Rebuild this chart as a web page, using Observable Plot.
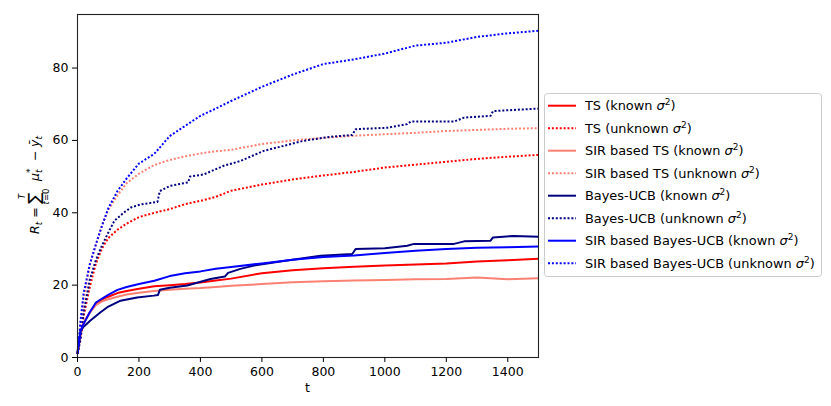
<!DOCTYPE html>
<html><head><meta charset="utf-8">
<script src="https://cdn.jsdelivr.net/npm/d3@7"></script>
<script src="https://cdn.jsdelivr.net/npm/@observablehq/plot@0.6"></script>
<style>body{margin:0;background:#fff;} svg{font-family:"DejaVu Sans";}</style>
</head><body><div id="chart"></div>
<script>
// ---- data ----
const tGrid = [0,10,20,40,60,80,100,130,160,200,250,300,350,400,450,500,600,700,800,900,1000,1100,1200,1300,1400,1500];
const tsKnown      = [1,6.5,9.5,12.5,14.8,16,16.8,17.8,18.4,19,19.7,20,20.3,20.7,21.3,21.8,23.3,24.1,24.7,25.1,25.4,25.7,26,26.5,26.9,27.3];
const tsUnknown    = [1,6,11.5,19.5,26,30.2,33,35.3,37,38.8,40,41,42.4,43.3,44.4,46.1,47.8,49.2,50.3,51.3,52.5,53.3,54.1,54.9,55.5,56];
const sirTsKnown   = [1,6.5,9.5,12.3,14.5,15.5,16.1,16.8,17.4,17.9,18.4,18.7,19,19.2,19.5,19.8,20.3,20.8,21.1,21.3,21.4,21.6,21.7,22.1,21.6,21.9];
const sirTsUnknown = [1,9,16,25.5,31.3,36.5,40.8,44.8,48.2,50.8,53.2,54.6,55.6,56.4,57,57.4,59,60,60.7,61.3,61.7,62.1,62.6,62.9,63.2,63.4];
const sirUcbKnown  = [1.5,7.5,9.3,12.5,15.2,16.3,17.3,18.7,19.5,20.3,21.2,22.5,23.3,23.8,24.5,25,26,27,27.8,28.2,28.9,29.5,30,30.3,30.5,30.7];
const sirUcbUnknown= [1,10.2,17.8,25.8,31.3,36.5,41.2,46,49.5,53.6,56.3,61.2,64,66.8,68.8,70.9,74.8,78.2,81.1,82.4,84,86.2,87,88.6,89.6,90.3];
const ucbKnownT  = [0,10,20,42,75,97,140,194,248,262,268,300,357,433,465,480,490,530,574,682,791,894,905,1000,1073,1095,1225,1258,1344,1352,1420,1500];
const ucbKnown   = [1,7.4,8.5,10.2,12.5,13.9,15.7,16.6,17.1,17.3,18.7,19.3,19.9,21.7,22.2,22.4,23.4,24.5,25.4,26.8,28.1,28.6,30,30.2,30.9,31.4,31.4,32.1,32.3,33.2,33.6,33.4];
const ucbUnknownT= [0,10,20,40,60,80,100,120,150,175,205,260,268,300,360,366,411,476,530,606,736,823,894,905,1008,1073,1084,1225,1258,1344,1352,1500];
const ucbUnknown = [1,5,12.5,21.5,27,31,34.5,37.8,40,41.5,42.3,43,46,47.4,48.4,50,50.6,53,54.3,57.1,59.9,61,61.5,63.1,63.5,64.5,65.2,65.2,66.3,66.8,68.1,68.8];
const seriesNames = ["TS", "TS", "SIR based TS", "SIR based TS", "Bayes-UCB", "Bayes-UCB", "SIR based Bayes-UCB", "SIR based Bayes-UCB"];
const seriesKind = ["known", "unknown", "known", "unknown", "known", "unknown", "known", "unknown"];
const seriesColors = ["red", "red", "salmon", "salmon", "navy", "navy", "blue", "blue"];
const xTicks = [0,200,400,600,800,1000,1200,1400];
const yTicks = [0,20,40,60,80];

const seriesT = [tGrid, tGrid, tGrid, tGrid, ucbKnownT, ucbUnknownT, tGrid, tGrid];
const seriesV = [tsKnown, tsUnknown, sirTsKnown, sirTsUnknown, ucbKnown, ucbUnknown, sirUcbKnown, sirUcbUnknown];

const DASH = "2,1.9";
const lines = seriesV.map((vals, i) => {
  const rows = vals.map((v, j) => ({t: seriesT[i][j], r: v}));
  return Plot.line(rows, {x: "t", y: "r", stroke: seriesColors[i], strokeWidth: 2,
    strokeDasharray: seriesKind[i] === "unknown" ? DASH : null, strokeLinecap: "butt"});
});

const svg = Plot.plot({
  width: 831, height: 406,
  marginLeft: 77, marginRight: 293, marginTop: 14, marginBottom: 49,
  style: {fontFamily: "DejaVu Sans", fontSize: "12.5px", color: "black", background: "white"},
  x: {domain: [0, 1500]},
  y: {domain: [0, 94.8]},
  marks: [
    ...lines,
    Plot.frame({stroke: "#222", strokeWidth: 1.1}),
    Plot.axisX({ticks: xTicks, tickSize: 5, tickPadding: 5, label: null, tickFormat: d => String(d)}),
    Plot.axisY({ticks: yTicks, tickSize: 5, tickPadding: 4, label: null, tickFormat: d => String(d)})
  ]
});
document.getElementById("chart").appendChild(svg);

const s = d3.select(svg);
// x label
s.append("text").attr("x", 307.5).attr("y", 392).attr("text-anchor", "middle")
  .attr("font-size", 12.5).attr("fill", "black").text("t");

// y label (math)
const g = s.append("g").attr("transform", "translate(39,183) rotate(-90)")
  .attr("font-size", 12.5).attr("fill", "black").attr("text-anchor", "start");
const t1 = g.append("text").attr("x", -51).attr("y", 0);
t1.append("tspan").attr("font-style", "italic").text("R");
t1.append("tspan").attr("font-style", "italic").attr("font-size", 9).attr("dy", 3).text("t");
t1.append("tspan").attr("dy", -3).text(" =");
g.append("text").attr("x", -21).attr("y", 1).attr("font-size", 17).text("∑");
g.append("text").attr("x", -13.5).attr("y", -14).attr("font-size", 8.5).attr("font-style", "italic").attr("text-anchor", "middle").text("T");
const lim = g.append("text").attr("x", -13.5).attr("y", 9.5).attr("font-size", 8.5).attr("text-anchor", "middle");
lim.append("tspan").attr("font-style", "italic").text("t");
lim.append("tspan").text("=0");
g.append("text").attr("x", 2).attr("y", 0).attr("font-style", "italic").text("μ");
g.append("text").attr("x", 10).attr("y", 3).attr("font-size", 9).attr("font-style", "italic").text("t");
g.append("text").attr("x", 10).attr("y", -6).attr("font-size", 9).text("*");
g.append("text").attr("x", 22).attr("y", 0).text("−");
const t3 = g.append("text").attr("x", 36).attr("y", 0);
t3.append("tspan").attr("font-style", "italic").text("ȳ");
t3.append("tspan").attr("font-style", "italic").attr("font-size", 9).attr("dy", 3).text("t");

// legend
const lg = s.append("g").attr("text-anchor", "start");
lg.append("rect").attr("x", 544.5).attr("y", 93.5).attr("width", 277).attr("height", 183)
  .attr("rx", 3).attr("fill", "white").attr("stroke", "#cccccc").attr("stroke-width", 1);
seriesNames.forEach((name, i) => {
  const y = 105.7 + i * 22.5;
  lg.append("line").attr("x1", 548).attr("x2", 576).attr("y1", y).attr("y2", y)
    .attr("stroke", seriesColors[i]).attr("stroke-width", 2)
    .attr("stroke-dasharray", seriesKind[i] === "unknown" ? DASH : null);
  const tx = lg.append("text").attr("x", 585).attr("y", y).attr("dy", "0.36em")
    .attr("font-size", 12.9).attr("fill", "black");
  tx.append("tspan").text(`${name} (${seriesKind[i]} `);
  tx.append("tspan").attr("font-style", "italic").text("σ");
  tx.append("tspan").attr("font-size", 9).attr("dy", -5).text("2");
  tx.append("tspan").attr("dy", 5).text(")");
});
</script></body></html>
